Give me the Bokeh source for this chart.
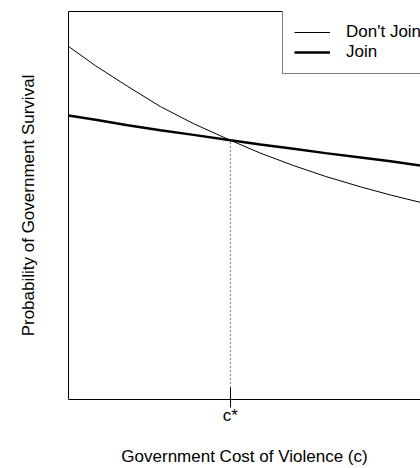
from bokeh.plotting import figure
from bokeh.models import FixedTicker, Legend, LegendItem, Range1d, LinearAxis
from bokeh.embed import file_html
from bokeh.resources import INLINE

# --- data ---
cost = [0.0, 0.077, 0.168, 0.261, 0.355, 0.460, 0.545, 0.639, 0.730, 0.830, 0.915, 1.0]
dont_join = [0.910, 0.860, 0.807, 0.755, 0.711, 0.668, 0.635, 0.603, 0.575, 0.548, 0.527, 0.508]
join = [0.732, 0.721, 0.707, 0.694, 0.682, 0.668, 0.657, 0.646, 0.635, 0.624, 0.614, 0.603]
c_star = 0.460
p_star = 0.668
c_star_label = "c*"
series_labels = ["Don't Join", "Join"]
x_title = "Government Cost of Violence (c)"
y_title = "Probability of Government Survival"

FONT = "Liberation Sans"
FS = "17px"

p = figure(width=420, height=468,
           x_range=Range1d(0, 1), y_range=Range1d(0, 1),
           output_backend="svg", toolbar_location=None,
           min_border_left=68, min_border_right=0,
           min_border_top=11, min_border_bottom=69,
           x_axis_location=None, y_axis_location=None)
p.outline_line_color = None
p.grid.visible = False
p.background_fill_color = "white"
p.border_fill_color = "white"

def bare_axis(**kw):
    ax = LinearAxis(ticker=FixedTicker(ticks=[]),
                    major_tick_in=0, major_tick_out=0,
                    minor_tick_in=0, minor_tick_out=0,
                    axis_line_color="black", axis_line_width=1,
                    major_label_text_font_size="0px", **kw)
    return ax

top_ax = bare_axis()
p.add_layout(top_ax, "above")

left_ax = bare_axis(axis_label=y_title,
                    axis_label_text_font=FONT,
                    axis_label_text_font_size=FS,
                    axis_label_text_font_style="normal",
                    axis_label_text_color="black",
                    axis_label_standoff=31)
p.add_layout(left_ax, "left")

bottom_ax = LinearAxis(ticker=FixedTicker(ticks=[c_star]),
                       major_label_overrides={c_star: c_star_label},
                       major_tick_in=12, major_tick_out=8,
                       minor_tick_in=0, minor_tick_out=0,
                       major_tick_line_color="black",
                       axis_line_color="black", axis_line_width=1,
                       major_label_text_font=FONT,
                       major_label_text_font_size=FS,
                       major_label_text_color="black",
                       major_label_standoff=-2,
                       axis_label=x_title,
                       axis_label_text_font=FONT,
                       axis_label_text_font_size=FS,
                       axis_label_text_font_style="normal",
                       axis_label_text_color="black",
                       axis_label_standoff=19)
p.add_layout(bottom_ax, "below")

r_dj = p.line(cost, dont_join, line_color="black", line_width=1)
r_j = p.line(cost, join, line_color="black", line_width=2.5)
p.segment(x0=[c_star], y0=[p.y_range.start], x1=[c_star], y1=[p_star],
          line_color="black", line_width=1, line_dash="1 3")

legend = Legend(items=[LegendItem(label=series_labels[0], renderers=[r_dj]),
                       LegendItem(label=series_labels[1], renderers=[r_j])],
                location=(214, 325), margin=0, padding=11, spacing=0,
                glyph_width=36, glyph_height=20, label_height=20,
                label_standoff=16,
                label_text_font=FONT, label_text_font_size=FS,
                label_text_color="black",
                border_line_color="black", border_line_width=1,
                background_fill_color="white", background_fill_alpha=1)
p.add_layout(legend)

open("out.html", "w").write(file_html(p, INLINE))
